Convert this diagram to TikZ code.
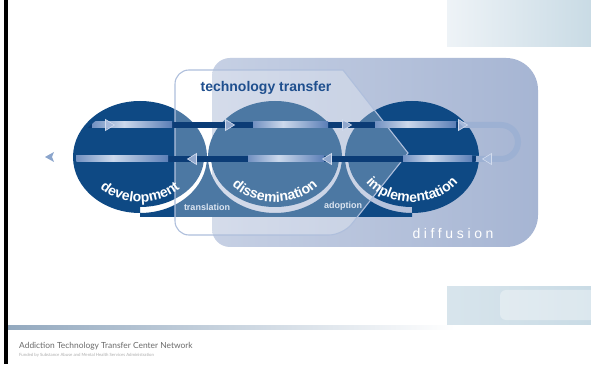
\documentclass[tikz,border=0pt]{standalone}
\usepackage{fontspec}
\setmainfont{Liberation Sans}
\newfontfamily\footfont{Lato}
\usetikzlibrary{decorations.text}

\definecolor{navy}{HTML}{0E4984}
\definecolor{bandnavy}{HTML}{0B3C76}
\definecolor{glow}{HTML}{CCD9EC}
\definecolor{glowmid}{HTML}{5A7EB6}
\definecolor{loopblue}{HTML}{9DB1D3}
\definecolor{diffL}{HTML}{C6D0E4}
\definecolor{diffR}{HTML}{A6B5D3}
\definecolor{ttline}{HTML}{AFBFDC}
\definecolor{tttext}{HTML}{1F4F8E}
\definecolor{tipfill}{HTML}{A9BCDD}
\definecolor{tipline}{HTML}{D2DCEE}
\definecolor{boxL}{HTML}{EEF3F7}
\definecolor{boxR}{HTML}{C9DBE5}
\definecolor{rulecol}{HTML}{93A9BF}
\definecolor{footcol}{HTML}{6A6A6A}
\definecolor{smalllab}{HTML}{DCE5F1}

\pgfdeclarehorizontalshading{bandglow}{100bp}{color(0bp)=(bandnavy); color(20bp)=(glowmid); color(45bp)=(glow); color(75bp)=(glowmid); color(100bp)=(bandnavy)}

\newcommand\arclabel{\fontsize{14}{14}\selectfont\bfseries}

\tikzset{
  circ/.style={fill=navy},
  darkband/.style={draw=bandnavy, line width=6pt},
  loopband/.style={draw=loopblue, line width=6pt},
  glowband/.style={shading=bandglow},
  tipstyle/.style={fill=tipfill, draw=tipline, line width=0.6pt, fill opacity=0.85},
  tipR/.pic={\path[tipstyle] (4.5,0) -- (-4.5,5.5) -- (-4.5,-5.5) -- cycle;},
  tipL/.pic={\path[tipstyle] (-4.5,0) -- (4.5,5.5) -- (4.5,-5.5) -- cycle;},
  arctext/.style={decorate, decoration={text along path, text align=center,
      text color=white, text={|\arclabel|#1}}},
  smalltext/.style={text=smalllab, font=\fontsize{9}{9}\selectfont\bfseries, inner sep=0pt},
}

\begin{document}
\begin{tikzpicture}[x=1pt, y=1pt]
\useasboundingbox (0,0) rectangle (591,364);
\fill[white] (0,0) rectangle (591,364);

% page frame: left edge, corner panels, footer rule
\fill[black] (3.5,0) rectangle (7.5,364);
\shade[left color=boxL, right color=boxR] (447,317) rectangle (591,364);
\shade[left color=boxL!40!boxR, right color=boxR] (447,40) rectangle (591,77);
\fill[white, opacity=0.35, rounded corners=6] (500,44) rectangle (596,74);
\shade[left color=rulecol, middle color=rulecol!55, right color=white] (8,35) rectangle (455,39);

\node[anchor=west, inner sep=0pt, text=footcol] (foot1) at (19,18)
  {\footfont\fontsize{8.4}{9}\selectfont Addiction Technology Transfer Center Network};
\node[anchor=west, inner sep=0pt, text=footcol!55] (foot2) at (19,8.5)
  {\footfont\fontsize{4.3}{5}\selectfont Funded by Substance Abuse and Mental Health Services Administration};

% diffusion field
\shade[left color=diffL, right color=diffR]
  [rounded corners=18] (375,306) -- (212,306) -- (212,117) -- (375,117)
  [rounded corners=32] -- (538,117) -- (538,306) -- cycle;

% base strip with ring gaps round the three stages
\fill[navy, even odd rule] (140,147) rectangle (412,207)
  (140,207) ellipse [x radius=67pt, y radius=56pt]
  (275,207) ellipse [x radius=67pt, y radius=56pt]
  (412,207) ellipse [x radius=67pt, y radius=56pt];

% the three stages
\fill[circ] (140,207) ellipse [x radius=64pt, y radius=50pt];
\fill[circ] (275,207) ellipse [x radius=64pt, y radius=50pt];
\fill[circ] (412,207) ellipse [x radius=64pt, y radius=50pt];

% technology transfer overlay
\path[fill=white, fill opacity=0.26]
  [rounded corners=14] (343,294) -- (175,294) -- (175,129) -- (343,129)
  [sharp corners] -- (408,211) -- cycle;
\draw[ttline, line width=1.1pt]
  [rounded corners=14] (343,294) -- (175,294) -- (175,129) -- (343,129)
  [sharp corners] -- (408,211) -- cycle;

% feedback loop: pale outside the stages, dark within them
\coordinate (ustart) at (412,239);
\coordinate (uturn) at (501,239);
\coordinate (lend) at (412,205);
\draw[loopband] (ustart) -- (uturn) arc [start angle=90, end angle=-90, radius=17pt] -- (lend);
\draw[darkband] (140,239) -- (412,239) (140,205) -- (412,205);
\foreach \cx in {140,412}{
  \begin{scope}
    \clip (\cx,207) ellipse [x radius=64pt, y radius=50pt];
    \draw[darkband] (\cx-70,239) -- (\cx+70,239) (\cx-70,205) -- (\cx+70,205);
  \end{scope}
}
% light streaks inside the stages
\begin{scope}
  \clip (140,207) ellipse [x radius=64pt, y radius=50pt];
  \shade[glowband] (92,236) rectangle (172,242);
  \shade[glowband] (76,202) rectangle (168,208);
\end{scope}
\shade[glowband] (253,236) rectangle (328,242);
\shade[glowband] (248,202) rectangle (324,208);
\begin{scope}
  \clip (412,207) ellipse [x radius=64pt, y radius=50pt];
  \shade[glowband] (375,236) rectangle (456,242);
  \shade[glowband] (403,202) rectangle (472,208);
\end{scope}

% arrowheads along the loop
\pic at (110,239) {tipR};
\pic at (230,239) {tipR};
\pic at (347,239) {tipR};
\pic at (463,239) {tipR};
\pic at (487,205) {tipL};
\pic at (327,205) {tipL};
\pic at (192,205) {tipL};
\path[fill=glowmid!70!white, draw=none] (45,207) -- (54,212) -- (52,207) -- (54,202) -- cycle;

% labels
\node[text=tttext, font=\fontsize{14}{14}\selectfont\bfseries, inner sep=0pt] (tt) at (266,276) {technology transfer};
\node[smalltext] (trans) at (207,157) {translation};
\node[smalltext] (adopt) at (343,158) {adoption};
\node[text=white, font=\fontsize{14}{14}\selectfont\addfontfeatures{LetterSpace=26}, inner sep=0pt] (diff) at (453,131) {diffusion};

\path[arctext=development] (140,207) ++(195:56pt and 45pt)
  arc [start angle=195, end angle=345, x radius=56pt, y radius=45pt];
\path[arctext=dissemination] (275,207) ++(195:56pt and 45pt)
  arc [start angle=195, end angle=345, x radius=56pt, y radius=45pt];
\path[arctext=implementation] (412,207) ++(195:56pt and 45pt)
  arc [start angle=195, end angle=345, x radius=56pt, y radius=45pt];
\end{tikzpicture}
\end{document}
